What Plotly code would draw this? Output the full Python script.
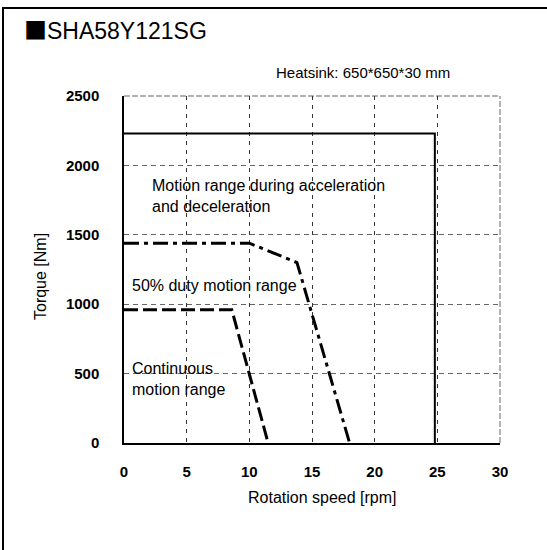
import plotly.graph_objects as go

# Data
accel_speed = [0, 24.8, 24.8]
accel_torque = [2230, 2230, 0]
duty_speed = [0, 10, 13.8, 18]
duty_torque = [1440, 1440, 1300, 0]
cont_speed = [0, 8.6, 11.5]
cont_torque = [960, 960, 0]

x_ticks = [0, 5, 10, 15, 20, 25, 30]
y_ticks = [0, 500, 1000, 1500, 2000, 2500]

FONT = "Liberation Sans, Arial, sans-serif"

fig = go.Figure()
fig.add_trace(go.Scatter(x=accel_speed, y=accel_torque, mode="lines",
                         line=dict(color="black", width=2), hoverinfo="skip"))
fig.add_trace(go.Scatter(x=duty_speed, y=duty_torque, mode="lines",
                         line=dict(color="black", width=3, dash="15px,5px,4px,5px"),
                         hoverinfo="skip"))
fig.add_trace(go.Scatter(x=cont_speed, y=cont_torque, mode="lines",
                         line=dict(color="black", width=3, dash="14px,5px"),
                         hoverinfo="skip"))

L, R, T, B = 124, 47, 96, 107
W, H = 547, 550
pw, ph = W - L - R, H - T - B

def px(xp):
    return (xp - L) / pw

def py(yp):
    return (H - B - yp) / ph

fig.update_layout(
    width=W, height=H,
    margin=dict(l=L, r=R, t=T, b=B, autoexpand=False),
    paper_bgcolor="white", plot_bgcolor="white",
    showlegend=False,
    font=dict(family=FONT, color="black"),
    xaxis=dict(range=[0, 30], tickvals=x_ticks, ticktext=[str(v) for v in x_ticks],
               showgrid=True, gridcolor="#333", griddash="4px,5px", gridwidth=1,
               showline=True, linecolor="black", linewidth=1.5, zeroline=False,
               ticks="", ticklabelstandoff=14,
               tickfont=dict(family=FONT, size=15, color="black", weight="bold")),
    yaxis=dict(range=[0, 2500], tickvals=y_ticks, ticktext=[str(v) for v in y_ticks],
               showgrid=True, gridcolor="#666", griddash="5px,4px", gridwidth=1,
               showline=True, linecolor="black", linewidth=1.5, zeroline=False,
               ticks="", ticklabelstandoff=20,
               tickfont=dict(family=FONT, size=15, color="black", weight="bold")),
)

ann = [
    dict(text="<span style=\"font-family:'Noto Sans CJK JP'\">■</span>SHA58Y121SG",
         x=px(22), y=py(29), xanchor="left", yanchor="middle", font=dict(size=23)),
    dict(text="Heatsink: 650*650*30 mm", x=px(274), y=py(73), xanchor="left",
         yanchor="middle", font=dict(size=15)),
    dict(text="Torque [Nm]", x=px(40), y=py(277), xanchor="center", yanchor="middle",
         textangle=-90, font=dict(size=16)),
    dict(text="Rotation speed [rpm]", x=px(322), y=py(497), xanchor="center",
         yanchor="middle", font=dict(size=16)),
    dict(text="Motion range during acceleration<br>and deceleration", x=px(150),
         y=py(196), xanchor="left", yanchor="middle", align="left", font=dict(size=16)),
    dict(text="50% duty motion range", x=px(130), y=py(285), xanchor="left",
         yanchor="middle", font=dict(size=16)),
    dict(text="Continuous<br>motion range", x=px(130), y=py(378.5), xanchor="left",
         yanchor="middle", align="left", font=dict(size=16)),
]
for a in ann:
    a.update(xref="paper", yref="paper", showarrow=False)
    a["font"] = dict(family=FONT, color="black", **a["font"])
    fig.add_annotation(**a)

# grey top and right edges of the plot area
fig.add_shape(type="line", xref="paper", yref="paper", x0=0, x1=1, y0=1, y1=1,
              line=dict(color="#999", width=1.5, dash="6px,2px"), layer="below")
fig.add_shape(type="line", xref="paper", yref="paper", x0=1, x1=1, y0=0, y1=1,
              line=dict(color="#999", width=1.5, dash="6px,2px"), layer="below")

# outer frame
fig.add_shape(type="rect", xref="paper", yref="paper",
              x0=px(3), x1=px(549), y0=py(560), y1=py(8),
              line=dict(color="black", width=2), layer="above")

fig.write_html("out.html", post_script="document.body.style.margin='0';",
               config={"displayModeBar": False})
